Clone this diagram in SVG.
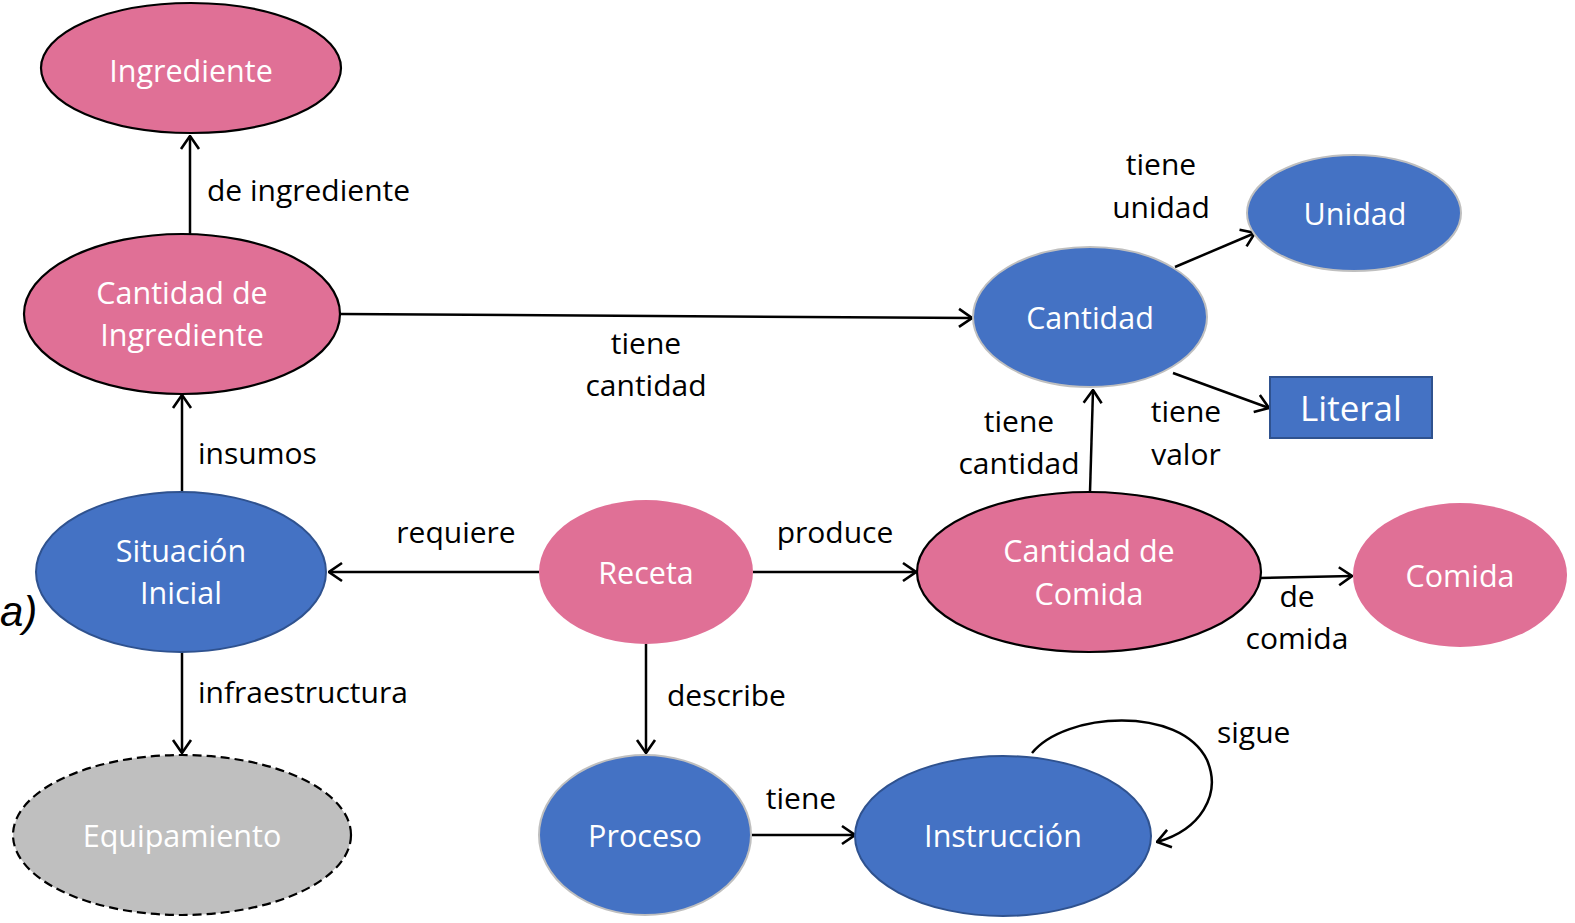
<svg xmlns="http://www.w3.org/2000/svg" width="1575" height="923" viewBox="0 0 1575 923">
<defs>
<style>
.pink{fill:#E07096}
.blue{fill:#4472C4}
.bk{stroke:#000;stroke-width:2.2}
.lg{stroke:#BFBFBF;stroke-width:2}
.db{stroke:#2F528F;stroke-width:2}
.nt{font-family:"Open Sans","Noto Sans",sans-serif;font-size:30.5px;fill:#fff;text-anchor:middle}
.lb{font-family:"Open Sans","Noto Sans",sans-serif;font-size:30px;fill:#000}
.c{text-anchor:middle}
.edge{fill:none;stroke:#000;stroke-width:2.5}
</style>
<marker id="ah" viewBox="0 0 15 22" refX="14" refY="11" markerWidth="15" markerHeight="22" markerUnits="userSpaceOnUse" orient="auto">
<polyline points="1,2 14,11 1,20" fill="none" stroke="#000" stroke-width="2.6"/>
</marker>
</defs>
<rect width="1575" height="923" fill="#fff"/>

<g id="connectors">
<line class="edge" x1="190" y1="234" x2="190" y2="136" marker-end="url(#ah)"/>
<line class="edge" x1="182" y1="492" x2="182" y2="395" marker-end="url(#ah)"/>
<line class="edge" x1="182" y1="652" x2="182" y2="753" marker-end="url(#ah)"/>
<line class="edge" x1="539" y1="572" x2="329" y2="572" marker-end="url(#ah)"/>
<line class="edge" x1="753" y1="572" x2="916" y2="572" marker-end="url(#ah)"/>
<line class="edge" x1="646" y1="644" x2="646" y2="753" marker-end="url(#ah)"/>
<line class="edge" x1="752" y1="835" x2="855" y2="835" marker-end="url(#ah)"/>
<line class="edge" x1="341" y1="314" x2="972" y2="318" marker-end="url(#ah)"/>
<line class="edge" x1="1090" y1="492" x2="1093" y2="390" marker-end="url(#ah)"/>
<line class="edge" x1="1175" y1="267" x2="1255" y2="233" marker-end="url(#ah)"/>
<line class="edge" x1="1173" y1="373" x2="1269" y2="408" marker-end="url(#ah)"/>
<line class="edge" x1="1260" y1="578" x2="1352" y2="576" marker-end="url(#ah)"/>
<path class="edge" d="M1032,753 C1065,712 1180,705 1207,760 C1222,795 1200,830 1157,842" marker-end="url(#ah)"/>
</g>

<g id="ingrediente"><ellipse class="pink bk" cx="191" cy="68" rx="150" ry="65"/><text class="nt" x="191" y="82">Ingrediente</text></g>
<g id="cantidad-ingrediente"><ellipse class="pink bk" cx="182" cy="314" rx="158" ry="80"/><text class="nt" x="182" y="304">Cantidad de</text><text class="nt" x="182" y="346">Ingrediente</text></g>
<g id="situacion-inicial"><ellipse class="blue db" cx="181" cy="572" rx="145" ry="80"/><text class="nt" x="181" y="562">Situación</text><text class="nt" x="181" y="604">Inicial</text></g>
<g id="equipamiento"><ellipse cx="182" cy="835" rx="169" ry="80" fill="#BFBFBF" stroke="#000" stroke-width="2.2" stroke-dasharray="9,5"/><text class="nt" x="182" y="847">Equipamiento</text></g>
<g id="receta"><ellipse class="pink" cx="646" cy="572" rx="107" ry="72"/><text class="nt" x="646" y="584">Receta</text></g>
<g id="proceso"><ellipse class="blue lg" cx="645" cy="835" rx="106" ry="80"/><text class="nt" x="645" y="847">Proceso</text></g>
<g id="instruccion"><ellipse class="blue db" cx="1003" cy="836" rx="148" ry="80"/><text class="nt" x="1003" y="847">Instrucción</text></g>
<g id="cantidad-comida"><ellipse class="pink bk" cx="1089" cy="572" rx="172" ry="80"/><text class="nt" x="1089" y="562">Cantidad de</text><text class="nt" x="1089" y="605">Comida</text></g>
<g id="comida"><ellipse class="pink" cx="1460" cy="575" rx="107" ry="72"/><text class="nt" x="1460" y="587">Comida</text></g>
<g id="cantidad"><ellipse class="blue lg" cx="1090" cy="317" rx="117" ry="70"/><text class="nt" x="1090" y="329">Cantidad</text></g>
<g id="unidad"><ellipse class="blue lg" cx="1354" cy="213" rx="107" ry="58"/><text class="nt" x="1355" y="225">Unidad</text></g>
<g id="literal"><rect class="blue db" x="1270" y="377" width="162" height="61"/><text class="nt" x="1351" y="421" style="font-size:35px">Literal</text></g>

<g id="labels">
<text class="lb" x="207" y="201">de ingrediente</text>
<text class="lb c" x="646" y="354">tiene</text>
<text class="lb c" x="646" y="396">cantidad</text>
<text class="lb" x="198" y="464">insumos</text>
<text class="lb c" x="456" y="543">requiere</text>
<text class="lb c" x="835" y="543">produce</text>
<text class="lb" x="198" y="703">infraestructura</text>
<text class="lb" x="667" y="706">describe</text>
<text class="lb c" x="801" y="809">tiene</text>
<text class="lb" x="1217" y="743">sigue</text>
<text class="lb c" x="1161" y="175">tiene</text>
<text class="lb c" x="1161" y="218">unidad</text>
<text class="lb c" x="1019" y="432">tiene</text>
<text class="lb c" x="1019" y="474">cantidad</text>
<text class="lb c" x="1186" y="422">tiene</text>
<text class="lb c" x="1186" y="465">valor</text>
<text class="lb c" x="1297" y="607">de</text>
<text class="lb c" x="1297" y="649">comida</text>
<text x="0" y="626" style="font-family:'Liberation Sans',Arial,sans-serif;font-size:42px;font-style:italic;fill:#000">a)</text>
</g>
</svg>
